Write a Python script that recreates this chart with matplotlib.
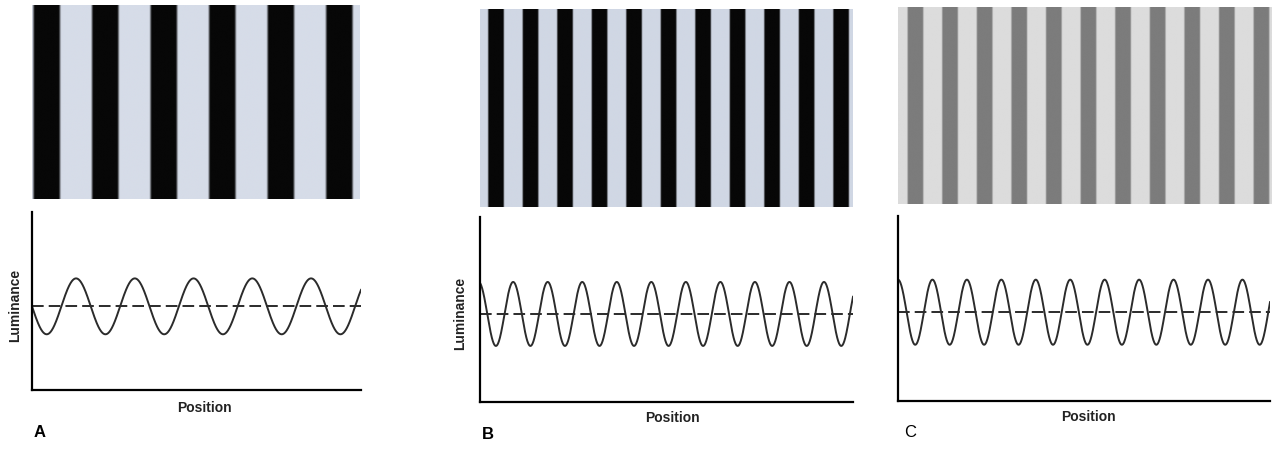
import numpy as np
import matplotlib
matplotlib.use('Agg')
import matplotlib.pyplot as plt
from matplotlib.colors import LinearSegmentedColormap

plt.rcParams['font.family'] = ['Liberation Sans', 'DejaVu Sans']

# grating / luminance profile parameters
panel_labels = ['A', 'B', 'C']
cycles = [5.6, 10.8, 10.8]          # number of cycles across the panel
start_phase = [0.25, 0.04, 0.0]     # phase at the left edge (fraction of a cycle after a peak)
mean_lum = [0.47, 0.476, 0.48]      # dashed mean line, axis fraction
amplitude = [0.157, 0.173, 0.176]   # wave amplitude, axis fraction
bar_dark = ['#070707', '#070707', '#7c7c7c']
bar_light = ['#d6dce8', '#d0d7e4', '#dcdcdc']
label_weight = ['bold', 'bold', 'normal']
show_ylabel = [True, True, False]

# layout in pixels (x0, y0 top, x1, y1 bottom) for a 1280x460 figure
W, H = 1280, 460
image_px = [(32, 6, 360, 200), (480, 10, 853, 208), (898, 8, 1272, 205)]
plot_px = [(32, 213, 361, 391), (480, 218, 853, 403), (898, 217, 1270, 402)]
xlabel_px = [(204, 408), (672, 418), (1088, 417)]
ylabel_px = [(15, 305), (460, 313), None]
letter_px = [(40, 433), (488, 435), (910, 433)]


def box(px):
    x0, y0, x1, y1 = px
    return [x0 / W, 1 - y1 / H, (x1 - x0) / W, (y1 - y0) / H]


fig = plt.figure(figsize=(12.8, 4.6), dpi=100)
fig.patch.set_facecolor('white')

t = np.linspace(0, 1, 1200)
for i in range(3):
    profile = np.cos(2 * np.pi * (cycles[i] * t + start_phase[i]))

    # grating picture (dark bars sit on the troughs of the profile)
    axi = fig.add_axes(box(image_px[i]))
    shade = np.clip((profile + 0.15) * 4.0 + 0.5, 0, 1)
    cmap = LinearSegmentedColormap.from_list('g%d' % i, [bar_dark[i], bar_light[i]])
    axi.imshow(shade[np.newaxis, :], cmap=cmap, vmin=0, vmax=1,
               aspect='auto', extent=(0, 1, 0, 1), interpolation='bilinear')
    axi.set_axis_off()

    # luminance profile
    ax = fig.add_axes(box(plot_px[i]))
    ax.plot(t, mean_lum[i] + amplitude[i] * profile, color='#2b2b2b', lw=1.4)
    ax.axhline(mean_lum[i], color='#2b2b2b', lw=1.4, dashes=(6, 2.6))
    ax.set_xlim(0, 1)
    ax.set_ylim(0, 1)
    ax.set_xticks([])
    ax.set_yticks([])
    for s in ['top', 'right']:
        ax.spines[s].set_visible(False)
    for s in ['left', 'bottom']:
        ax.spines[s].set_linewidth(1.6)
        ax.spines[s].set_color('black')
    ax.patch.set_alpha(0)

    fig.text(xlabel_px[i][0] / W, 1 - xlabel_px[i][1] / H, 'Position',
             ha='center', va='center', fontsize=10, fontweight='bold', color='#222222')
    if show_ylabel[i]:
        fig.text(ylabel_px[i][0] / W, 1 - ylabel_px[i][1] / H, 'Luminance',
                 ha='center', va='center', rotation=90, fontsize=10,
                 fontweight='bold', color='#222222')
    fig.text(letter_px[i][0] / W, 1 - letter_px[i][1] / H, panel_labels[i],
             ha='center', va='center', fontsize=12, fontweight=label_weight[i],
             color='black')

fig.savefig('out.png', dpi=100, facecolor='white')
